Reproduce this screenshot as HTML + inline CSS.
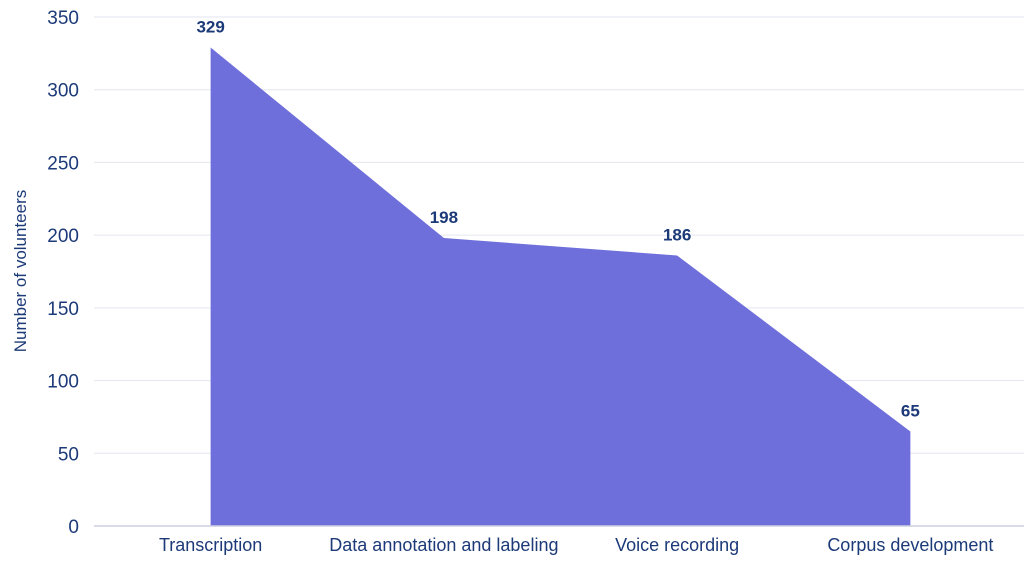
<!DOCTYPE html>
<html><head><meta charset="utf-8"><style>
body{margin:0;background:#fff;}
svg{display:block;font-family:"Liberation Sans",sans-serif;}
</style></head><body>
<svg id="chart" width="1024" height="566"></svg>
<script>
const categories=["Transcription","Data annotation and labeling","Voice recording","Corpus development"];
const values=[329,198,186,65];
const yTicks=[0,50,100,150,200,250,300,350];
const NS="http://www.w3.org/2000/svg";
const svg=document.getElementById('chart');
const L=94,R=1027,T=17,B=526,yMax=350;
const bw=(R-L)/categories.length;
const x=i=>L+bw*(i+0.5);
const y=v=>B-(v/yMax)*(B-T);
function mk(t,a){const e=document.createElementNS(NS,t);for(const k in a)e.setAttribute(k,a[k]);svg.appendChild(e);return e;}
yTicks.forEach(t=>{
  if(t>0){const g=mk('line',{x1:L,x2:R,y1:y(t),y2:y(t),stroke:'#e3e6ef','stroke-width':1});
  
  }
  const tx=mk('text',{x:79,y:y(t)+7,'text-anchor':'end','font-size':19,fill:'#1c3a78'});
  tx.textContent=t;
  
  
});
let d='M'+x(0)+','+B;
values.forEach((v,i)=>{d+=' L'+x(i)+','+y(v);});
d+=' L'+x(values.length-1)+','+B+' Z';
const area=mk('path',{d:d,fill:'#6f6fdc'});


const ax=mk('line',{x1:L,x2:R,y1:B,y2:B,stroke:'#ccd1e0','stroke-width':1.5});


values.forEach((v,i)=>{
  const t=mk('text',{x:x(i),y:y(v)-15,'text-anchor':'middle','font-size':17,'font-weight':'bold',fill:'#1c3a78'});
  t.textContent=v;
  
  
});
categories.forEach((c,i)=>{
  const t=mk('text',{x:x(i),y:551,'text-anchor':'middle','font-size':18,fill:'#1c3a78'});
  t.textContent=c;
  
  
});
const yt=mk('text',{x:0,y:0,'text-anchor':'middle','font-size':17,fill:'#1c3a78',transform:'translate(26,271) rotate(-90)'});
yt.textContent='Number of volunteers';


</script>
</body></html>
